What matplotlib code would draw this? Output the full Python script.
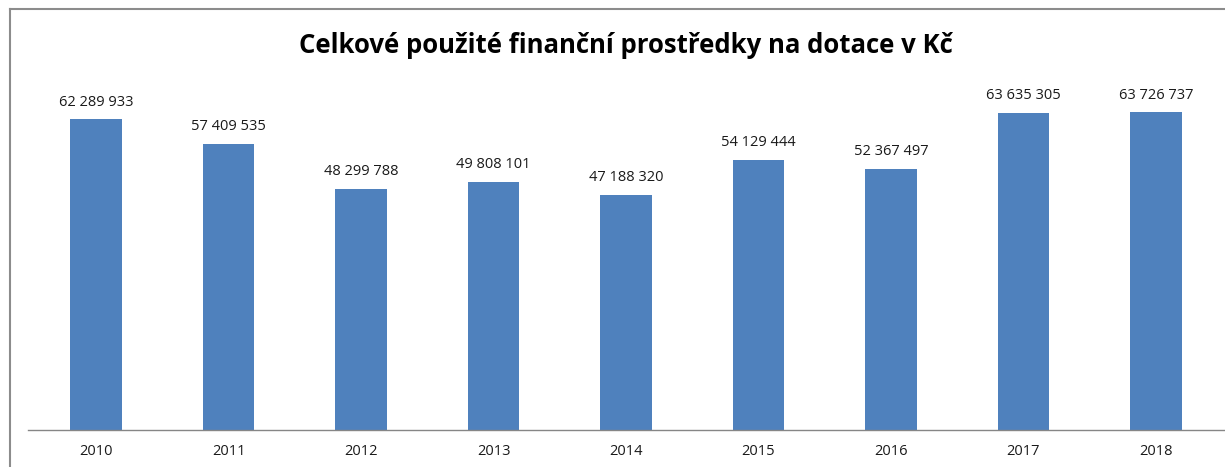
import matplotlib
matplotlib.use("Agg")
import matplotlib.pyplot as plt
from matplotlib.lines import Line2D

# Data
roky = ["2010", "2011", "2012", "2013", "2014", "2015", "2016", "2017", "2018"]
dotace = [62289933, 57409535, 48299788, 49808101, 47188320,
          54129444, 52367497, 63635305, 63726737]

C_BAR = "#4F81BD"
W, H = 1225, 467


def fmt(v):
    # tisíce oddělené mezerou
    return f"{v:,}".replace(",", " ")


plt.rcParams["font.family"] = ["Open Sans", "DejaVu Sans"]

fig = plt.figure(figsize=(W / 100, H / 100), dpi=100)
ax = fig.add_axes([30 / W, 1 - 430 / H, (1222 - 30) / W, (430 - 81) / H])

x = range(len(roky))
bars = ax.bar(x, dotace, width=0.39, color=C_BAR)
for b, v in zip(bars, dotace):
    ax.annotate(fmt(v), (b.get_x() + b.get_width() / 2, v),
                xytext=(0, 7), textcoords="offset points",
                ha="center", va="bottom", fontsize=10.5, color="#1a1a1a")

ax.set_xlim(-0.5, len(roky) - 0.5)
ax.set_ylim(0, 70000000)
ax.set_xticks(list(x))
ax.set_xticklabels(roky, fontsize=10.5, color="#1a1a1a")
ax.tick_params(axis="x", length=0, pad=10)
ax.set_yticks([])
for s in ["top", "right", "left", "bottom"]:
    ax.spines[s].set_visible(False)

# osa x přes celou šířku
fig.add_artist(Line2D([28 / W, 1], [1 - 430 / H, 1 - 430 / H], color="#868686", lw=1,
                      transform=fig.transFigure))

fig.text(626 / W, 1 - 45 / H, "Celkové použité finanční prostředky na dotace v Kč",
         ha="center", va="center", fontsize=18.5, fontweight="bold")

# rámeček grafu (oříznutý)
fig.add_artist(Line2D([10 / W, 10 / W], [0, 1 - 9 / H], color="#8c8c8c", lw=1.5,
                      transform=fig.transFigure))
fig.add_artist(Line2D([10 / W, 1], [1 - 9 / H, 1 - 9 / H], color="#8c8c8c", lw=1.5,
                      transform=fig.transFigure))

fig.savefig("out.png", dpi=100)
